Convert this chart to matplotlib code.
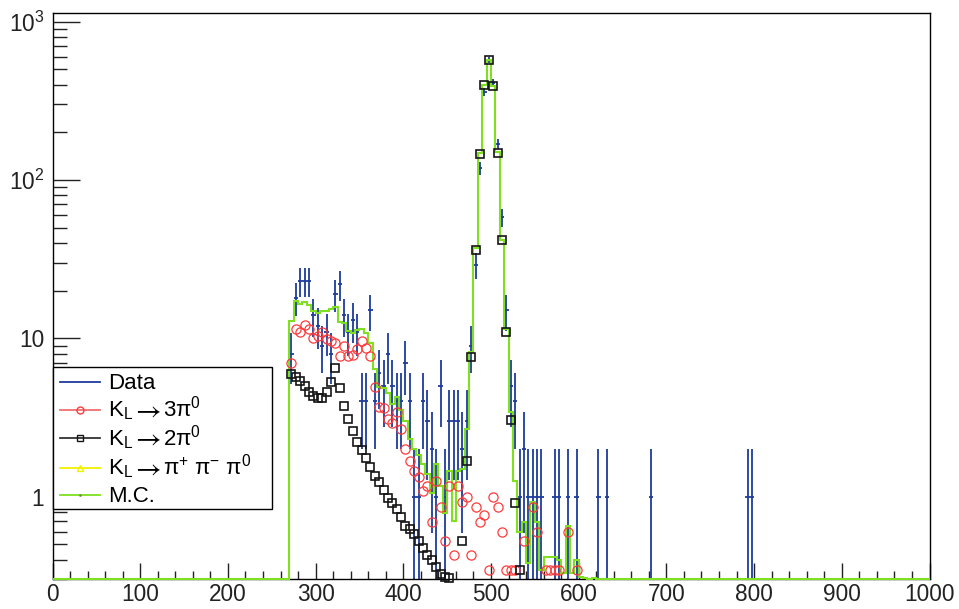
import numpy as np
import matplotlib
matplotlib.use('Agg')
from matplotlib import pyplot as plt
from matplotlib.patches import Rectangle
from matplotlib.ticker import FixedLocator, MultipleLocator, LogLocator, NullFormatter

plt.rcParams['font.family'] = ['Liberation Sans', 'DejaVu Sans']
plt.rcParams['mathtext.fontset'] = 'custom'
plt.rcParams['mathtext.rm'] = 'Liberation Sans'
plt.rcParams['mathtext.it'] = 'Liberation Sans'
plt.rcParams['mathtext.default'] = 'rm'

# binning (5 units per bin, 0..1000)
bin_width = 5
first_center = 272.5

# Data: counts per bin, from bin centre 272.5 up to 597.5
data_counts = [8, 18, 23, 23, 23, 14, 12, 9, 11, 8,
               19, 22, 14, 11, 13, 11, 4, 4, 15, 4,
               6, 5, 8, 5, 4, 4, 7, 4, 1, 1,
               4, 3, 2, 1, 5, 1, 3, 3, 3, 2,
               3, 9, 29, 119, 360, 573, 412, 169, 58, 15,
               5, 4, 1, 2, 1, 1, 1, 1, 0, 0,
               1, 1, 0, 1, 0, 1]
data_tail_x = [622.5, 632.5, 682.5, 792.5, 797.5]
data_tail_counts = [1, 1, 1, 1, 1]

# K_L -> 3pi0 (bin centres 272.5 .. 597.5)
k3pi0 = [6.96, 11.4, 11.0, 12.2, 11.5, 10.05, 10.3, 11.0, 9.95, 9.6,
         9.33, 7.67, 8.9, 7.67, 7.86, 8.6, 9.6, 8.67, 7.67, 4.94,
         3.69, 3.6, 3.1, 2.93, 3.43, 2.68, 2.0, 1.67, 1.44, 1.32,
         1.09, 1.16, 0.69, 1.25, 0.86, 0.52, 1.17, 0.43, 1.16, 0.92,
         1.0, 0.43, 0.86, 0.69, 0.77, 0.345, 1.0, 0.86, 0.6, 0.345,
         0.345, 0.345, 0, 0.52, 0, 0.86, 0.6, 0, 0.345, 0.345,
         0.345, 0.345, 0, 0.6, 0, 0.345]

# K_L -> 2pi0 (bin centres 272.5 .. 532.5)
k2pi0 = [5.93, 5.73, 5.37, 5.0, 4.55, 4.31, 4.2, 4.2, 4.6, 5.3,
         6.47, 4.82, 3.74, 3.1, 2.58, 2.2, 1.98, 1.75, 1.53, 1.35,
         1.23, 1.10, 0.985, 0.906, 0.84, 0.74, 0.65, 0.62, 0.58, 0.52,
         0.47, 0.43, 0.40, 0.36, 0.325, 0.31, 0.305, 0, 0, 0.52,
         1.67, 7.6, 36.3, 146, 400, 573, 395, 149, 41.8, 10.97,
         3.06, 0.915, 0.345]

# K_L -> pi+ pi- pi0 (nothing above the plot minimum)
kpipipi0 = [0] * 66

# Monte Carlo sum, bins starting at edge 270
mc_first_edge = 270
mc_values = [12.8, 17.2, 16.5, 17.0, 16.2, 14.9, 14.5, 14.9, 14.9, 15.3,
             15.8, 12.7, 12.5, 11.1, 10.8, 11.3, 11.5, 10.8, 9.3, 6.4,
             4.9, 4.82, 4.5, 3.87, 4.27, 3.5, 3.0, 2.3, 2.0, 1.82,
             1.6, 1.39, 1.06, 1.6, 1.17, 0.79, 1.46, 0.70, 1.46, 1.5,
             2.68, 8.2, 37, 147, 400, 575, 395, 150, 42, 11.5,
             3.43, 1.26, 0.6, 0.69, 0.38, 0.92, 0.69, 0.345, 0.415, 0.415,
             0.415, 0.395, 0.33, 0.65, 0.33, 0.395, 0.31, 0.305, 0, 0.305]

ymin, ymax = 0.30, 1130

c_blue = '#1c3c9c'
c_red = '#ff3b3b'
c_black = '#151515'
c_green = '#7ee01e'
c_yellow = '#f2f200'

fig = plt.figure(figsize=(9.59, 6.09), dpi=100)
ax = fig.add_axes([52.5 / 959, 1 - 579.3 / 609, 877 / 959, 566 / 609])

# Data with Poisson errors
dx = np.concatenate([first_center + bin_width * np.arange(len(data_counts)), data_tail_x])
dn = np.concatenate([data_counts, data_tail_counts]).astype(float)
m = dn > 0
dx, dn = dx[m], dn[m]
up = np.sqrt(dn)
lo = dn - np.maximum(dn - np.sqrt(dn), 1e-3)
ax.errorbar(dx, dn, xerr=bin_width / 2, yerr=[lo, up], fmt='none',
            ecolor=c_blue, elinewidth=1.3, capsize=0, zorder=2)

# MC step histogram over the full range
edges = np.arange(0, 1000 + bin_width, bin_width)
mc_full = np.zeros(len(edges) - 1)
i0 = mc_first_edge // bin_width
mc_full[i0:i0 + len(mc_values)] = mc_values
ax.stairs(np.maximum(mc_full, ymin), edges, baseline=None, color=c_green,
          lw=1.5, clip_on=False, zorder=3)

# components
rx = first_center + bin_width * np.arange(len(k3pi0))
ry = np.array(k3pi0)
ax.plot(rx[ry >= ymin], ry[ry >= ymin], 'o', mfc='none', mec=c_red, ms=6.6,
        mew=0.9, ls='none', clip_on=False, zorder=4)

bx = first_center + bin_width * np.arange(len(k2pi0))
by = np.array(k2pi0)
ax.plot(bx[by >= ymin], by[by >= ymin], 's', mfc='none', mec=c_black, ms=6.3,
        mew=1.2, ls='none', clip_on=False, zorder=5)

yx = first_center + bin_width * np.arange(len(kpipipi0))
yy = np.array(kpipipi0, dtype=float)
ax.plot(yx[yy >= ymin], yy[yy >= ymin], '^', mfc='none', mec=c_yellow, ms=6,
        ls='none', clip_on=False, zorder=4)

# axes
ax.set_xlim(0, 1000)
ax.set_yscale('log')
ax.set_ylim(ymin, ymax)
ax.xaxis.set_major_locator(MultipleLocator(100))
ax.xaxis.set_minor_locator(MultipleLocator(20))
ax.yaxis.set_major_locator(FixedLocator([1, 10, 100, 1000]))
ax.set_yticklabels(['1', '10', '$10^{2}$', '$10^{3}$'])
ax.yaxis.set_minor_locator(LogLocator(base=10, subs=np.arange(2, 10)))
ax.yaxis.set_minor_formatter(NullFormatter())
ax.tick_params(which='both', direction='in', top=False, right=False,
               colors='#222222', width=1, labelsize=16.3)
ax.tick_params(axis='x', which='major', length=11.5, pad=3)
ax.tick_params(axis='x', which='minor', length=5.8)
ax.tick_params(axis='y', which='major', length=19.4, pad=6)
ax.tick_params(axis='y', which='minor', length=10)
for s in ax.spines.values():
    s.set_linewidth(1)
    s.set_color('black')


def fx(px):
    # pixel column -> axes fraction
    return (px - 52.5) / 877


# legend box (ROOT style)
ax.add_patch(Rectangle((0, 0.124), 0.2506, 0.2506, transform=ax.transAxes,
                       fc='white', ec='black', lw=1, zorder=10, clip_on=False))
rows = [0.349, 0.300, 0.249, 0.197, 0.149]
heads = ['Data', 'K$_{\\mathrm{L}}$', 'K$_{\\mathrm{L}}$', 'K$_{\\mathrm{L}}$', 'M.C.']
tails = [None, '3π$^{0}$', '2π$^{0}$', 'π$^{+}$ π$^{-}$ π$^{0}$', None]
line_cols = [c_blue, '#f07070', '#333333', c_yellow, c_green]
marks = [None, 'o', 's', '^', '.']
mark_cols = [c_blue, c_red, c_black, c_yellow, '#6a9a3a']
for ry_, hd, tl, lc, mk, mc in zip(rows, heads, tails, line_cols, marks, mark_cols):
    ax.plot([0.0086, 0.054], [ry_, ry_], color=lc, lw=1.3, transform=ax.transAxes,
            clip_on=False, zorder=11)
    if mk is not None:
        ax.plot([0.0314], [ry_], marker=mk, mfc='none', mec=mc,
                ms=5 if mk != '.' else 2, mew=1, transform=ax.transAxes,
                clip_on=False, zorder=12)
    yb = ry_ - 0.0124
    ax.text(fx(108), yb, hd, transform=ax.transAxes, fontsize=16,
            va='baseline', ha='left', zorder=12)
    if tl is not None:
        ax.text(fx(131), yb - 0.001, '$\\rightarrow$', transform=ax.transAxes,
                fontsize=20, math_fontfamily='stix', va='baseline', ha='left',
                zorder=12)
        ax.text(fx(163), yb, tl, transform=ax.transAxes, fontsize=16,
                va='baseline', ha='left', zorder=12)

fig.savefig('out.png', dpi=100)
